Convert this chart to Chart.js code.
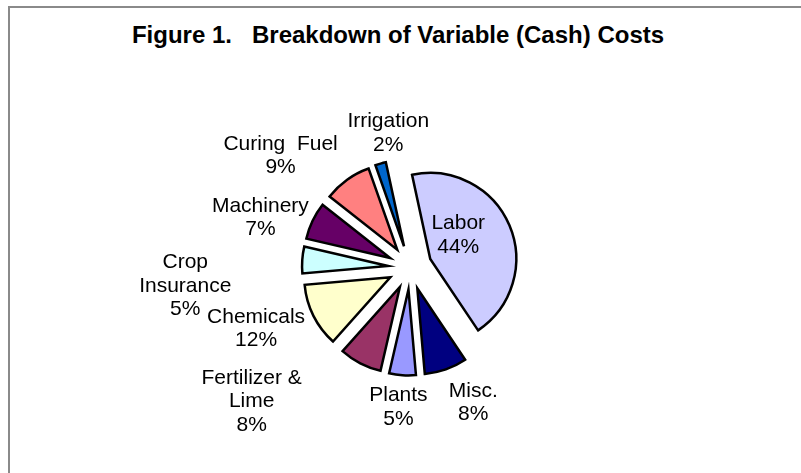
<!DOCTYPE html>
<html>
<head>
<meta charset="utf-8">
<script src="https://cdn.jsdelivr.net/npm/chart.js@4"></script>
<style>
    html, body { margin: 0; padding: 0; background: #fff; overflow: hidden; }
    #wrap  { position: relative; width: 801px; height: 473px; }
    #frame { position: absolute; left: 8px; top: 6px; width: 820px; height: 500px;
             border: 2px solid #8a8a8a; box-sizing: border-box; }
    #title { position: absolute; left: 0; top: 21px; width: 796px; text-align: center;
             font: bold 24px "Liberation Sans", Arial, sans-serif; line-height: 28px; color: #000;
             white-space: pre; }
    canvas { position: absolute; left: 0; top: 0; }
</style>
</head>
<body>
<div id="wrap">
    <div id="frame"></div>
    <div id="title">Figure 1.   Breakdown of Variable (Cash) Costs</div>
    <canvas id="pie" width="801" height="473"></canvas>
</div>
<script>
'use strict';

// ── Data (clockwise from the first slice, Excel order) ───────────────────────
const categories = [
    ['Plants'],
    ['Fertilizer &', 'Lime'],
    ['Chemicals'],
    ['Crop', 'Insurance'],
    ['Machinery'],
    ['Curing  Fuel'],
    ['Irrigation'],
    ['Labor'],
    ['Misc.']
];
const shares = [5, 8, 12, 5, 7, 9, 2, 44, 8];   // percent of variable cost
const sliceColors = ['#9999FF', '#993366', '#FFFFCC', '#CCFFFF', '#660066',
                     '#FF8080', '#0066CC', '#CCCCFF', '#000080'];

// Label placement: [angle shift from slice middle (deg), distance / radius]
const labelPlacement = [
    [0.8, 1.61], [22.7, 2.40], [5.4, 1.92], [-8.2, 2.62], [-6.6, 1.84],
    [-13.2, 2.00], [6.7, 1.60], [-12, 0.685], [-5.9, 1.72]
];

const RADIUS  = 86;    // px
const EXPLODE = 22;    // px each slice is pulled out

// ── Exploded pie: pull each slice straight out along its middle angle ────────
// (Chart.js' own `offset` also shrinks small slices, Excel does not)
const explode = {
    id: 'explode',
    afterDatasetUpdate(chart, args) {
        args.meta.data.forEach(arc => {
            const mid = (arc.startAngle + arc.endAngle) / 2;
            arc.x += Math.cos(mid) * EXPLODE;
            arc.y += Math.sin(mid) * EXPLODE;
        });
    }
};

// ── Data labels (category + percent, Excel "best fit" spots) ─────────────────
const sliceLabels = {
    id: 'sliceLabels',
    afterDatasetsDraw(chart) {
        const { ctx, chartArea } = chart;
        const ox = (chartArea.left + chartArea.right) / 2;
        const oy = (chartArea.top + chartArea.bottom) / 2;
        const arcs = chart.getDatasetMeta(0).data;
        ctx.save();
        ctx.fillStyle = '#000';
        ctx.font = '21px "Liberation Sans", Arial, sans-serif';
        ctx.textAlign = 'center';
        ctx.textBaseline = 'alphabetic';
        arcs.forEach((arc, i) => {
            const [shift, k] = labelPlacement[i];
            const mid = (arc.startAngle + arc.endAngle) / 2 + shift * Math.PI / 180;
            const cx  = ox + Math.cos(mid) * arc.outerRadius * k;
            const cy  = oy + Math.sin(mid) * arc.outerRadius * k;
            const lines = [...categories[i], `${shares[i]}%`];
            const lh = 23.5;
            lines.forEach((t, j) => {
                const y = cy + (j - (lines.length - 1) / 2) * lh + 7.5;
                ctx.fillText(t, cx, y);
            });
        });
        ctx.restore();
    }
};

// ── Chart ────────────────────────────────────────────────────────────────────
new Chart(document.getElementById('pie'), {
    type: 'pie',
    data: {
        labels: categories.map(c => c.join(' ')),
        datasets: [{
            data: shares,
            backgroundColor: sliceColors,
            borderColor: '#000',
            borderWidth: 2.5,
            borderJoinStyle: 'miter',
            clip: false
        }]
    },
    options: {
        responsive: false,
        animation: false,
        events: [],
        rotation: 175,
        radius: RADIUS,
        layout: { padding: { left: 280, right: 261, top: 137.5, bottom: 75.5 } },
        plugins: {
            legend: { display: false },
            title: { display: false },
            tooltip: { enabled: false }
        }
    },
    plugins: [explode, sliceLabels]
});
</script>
</body>
</html>
